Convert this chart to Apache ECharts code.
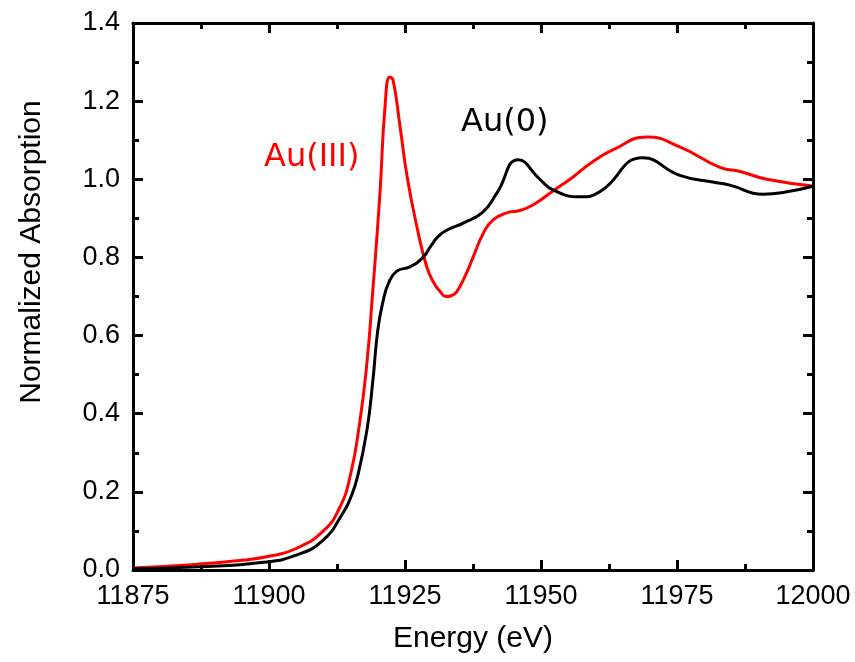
<!DOCTYPE html>
<html>
<head>
    <meta charset="utf-8">
    <script src="https://cdn.jsdelivr.net/npm/echarts@6/dist/echarts.min.js"></script>
</head>
<body style="margin:0">
    <div id="main" style="width: 855px;height:662px;"></div>

    <script type="text/javascript">
        // Au(III) spectrum
        var au3Energy = [11875, 11887, 11895, 11900, 11905, 11910, 11913, 11915, 11916.7, 11918, 11919, 11920.4, 11921.3, 11922.2, 11922.8, 11924.1, 11925.4, 11927.2, 11929, 11930.3, 11931.5, 11932.5, 11933.5, 11934.5, 11936.3, 11937.5, 11939.4, 11941.2, 11943.7, 11946.1, 11948.5, 11952.2, 11955.9, 11959, 11963.2, 11969.5, 11975.5, 11983, 11986.6, 11991.5, 12000];
        var au3Abs = [0.005, 0.015, 0.025, 0.035, 0.055, 0.10, 0.16, 0.245, 0.38, 0.53, 0.70, 0.965, 1.18, 1.262, 1.254, 1.134, 1.006, 0.878, 0.776, 0.735, 0.712, 0.70, 0.702, 0.712, 0.76, 0.80, 0.862, 0.896, 0.914, 0.92, 0.934, 0.97, 1.006, 1.04, 1.075, 1.108, 1.083, 1.03, 1.02, 1.0, 0.983];

        // Au(0) spectrum
        var au0Energy = [11875, 11887, 11899, 11905, 11910, 11913.6, 11915, 11916.2, 11918, 11919.1, 11920, 11921, 11922, 11923.5, 11925.9, 11928.3, 11929.8, 11931.2, 11933, 11935.7, 11939.3, 11941.9, 11945.8, 11949.8, 11952.2, 11957.2, 11960.8, 11968.7, 11975.5, 11981.6, 11984.7, 11990.8, 11995.2, 12000];
        var au0Abs = [0.003, 0.008, 0.02, 0.038, 0.077, 0.146, 0.185, 0.235, 0.358, 0.486, 0.614, 0.69, 0.735, 0.765, 0.776, 0.80, 0.83, 0.855, 0.872, 0.888, 0.916, 0.965, 1.05, 1.0, 0.973, 0.955, 0.968, 1.055, 1.01, 0.993, 0.985, 0.962, 0.968, 0.982];

        function pairs(xs, ys) {
            return xs.map(function(x, i) { return [x, ys[i]]; });
        }

        var myChart = echarts.init(document.getElementById('main'));

        var font = 'Liberation Sans, Arial, sans-serif';
        var frameLine = { show: true, onZero: false, lineStyle: { color: '#000', width: 3 } };
        var majorTick = { show: true, inside: true, length: 10, lineStyle: { color: '#000', width: 3 } };
        var minorTick = { show: true, splitNumber: 2, length: 6, lineStyle: { color: '#000', width: 3 } };

        var option = {
            animation: false,
            grid: { left: 133, right: 42, top: 23, bottom: 92 },
            xAxis: [{
                type: 'value',
                min: 11875, max: 12000, interval: 25,
                position: 'bottom',
                name: 'Energy (eV)',
                nameLocation: 'middle',
                nameGap: 54,
                nameTextStyle: { fontFamily: font, fontSize: 30, color: '#000' },
                axisLine: frameLine,
                axisTick: majorTick,
                minorTick: minorTick,
                splitLine: { show: false },
                axisLabel: {
                    fontFamily: font, fontSize: 27, color: '#000', margin: 13,
                    formatter: function(v) { return String(v); }
                }
            }, {
                type: 'value',
                min: 11875, max: 12000, interval: 25,
                position: 'top',
                axisLine: frameLine,
                axisTick: majorTick,
                minorTick: minorTick,
                splitLine: { show: false },
                axisLabel: { show: false }
            }],
            yAxis: [{
                type: 'value',
                min: 0, max: 1.4, interval: 0.2,
                position: 'left',
                axisLine: frameLine,
                axisTick: majorTick,
                minorTick: minorTick,
                splitLine: { show: false },
                axisLabel: {
                    fontFamily: font, fontSize: 27, color: '#000', margin: 13,
                    formatter: function(v) { return v.toFixed(1); }
                }
            }, {
                type: 'value',
                min: 0, max: 1.4, interval: 0.2,
                position: 'right',
                axisLine: frameLine,
                axisTick: majorTick,
                minorTick: minorTick,
                splitLine: { show: false },
                axisLabel: { show: false }
            }],
            graphic: [{
                type: 'text',
                x: 32, y: 252,
                rotation: Math.PI / 2,
                style: {
                    text: 'Normalized Absorption',
                    font: '30px Liberation Sans, Arial, sans-serif',
                    fill: '#000',
                    textAlign: 'center',
                    textVerticalAlign: 'middle'
                }
            }, {
                type: 'text',
                left: 264, top: 142,
                style: { text: 'Au(III)', font: '32px DejaVu Sans', fill: '#ff0000' }
            }, {
                type: 'text',
                left: 461, top: 107,
                style: { text: 'Au(0)', font: '32px DejaVu Sans', fill: '#000' }
            }],
            series: [{
                name: 'Au(III)',
                type: 'line',
                data: pairs(au3Energy, au3Abs),
                smooth: 0.5,
                symbol: 'none',
                lineStyle: { color: '#ff0000', width: 3 },
                z: 3
            }, {
                name: 'Au(0)',
                type: 'line',
                data: pairs(au0Energy, au0Abs),
                smooth: 0.5,
                symbol: 'none',
                lineStyle: { color: '#000', width: 3 },
                z: 4
            }]
        };
        myChart.setOption(option);
    </script>
</body>
</html>
